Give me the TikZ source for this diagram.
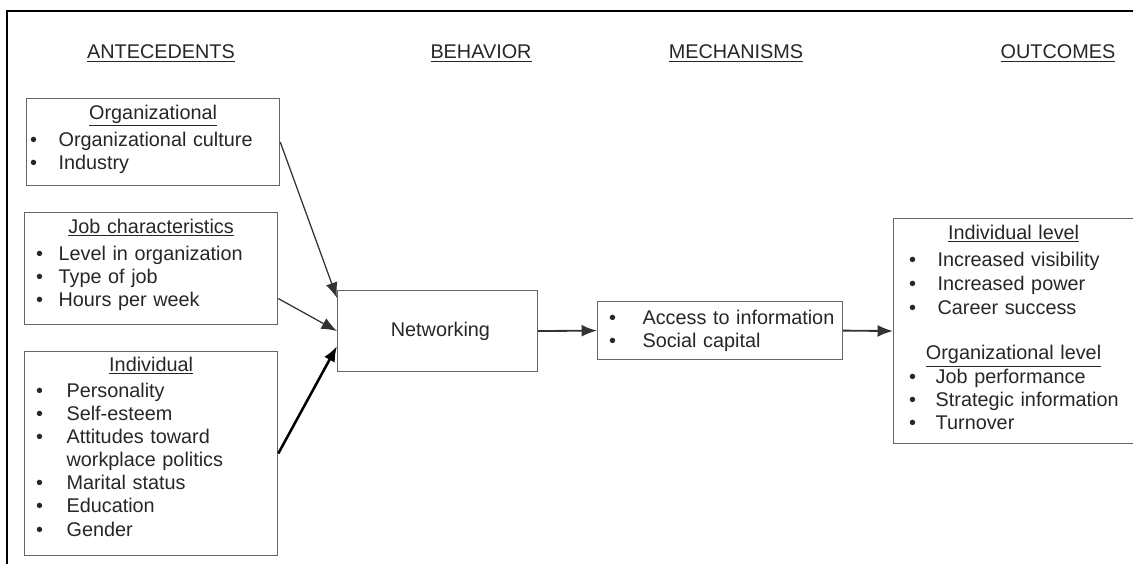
\documentclass[tikz,border=0pt]{standalone}
\usepackage{fontspec}
\setmainfont{Liberation Sans}
\usepackage{tikz}
\usetikzlibrary{arrows.meta,positioning}
\tikzset{
  >={Latex[length=11pt,width=8.5pt]},
  box/.style={draw=black!60, line width=0.8pt, text=black!85, inner sep=0pt,
    anchor=north west, align=left, font=\fontsize{14.1}{16.4}\selectfont},
  head/.style={text=black!85, anchor=base, font=\fontsize{14.1}{16.4}\selectfont},
  link/.style={->, draw=black!80, line width=0.9pt},
}
\newcommand{\itm}[3]{\hspace*{#1}\makebox[#2][l]{\textbullet}#3}
\newcommand{\ttl}[1]{\makebox[\linewidth]{\underline{#1}}}

\begin{document}
\begin{tikzpicture}[x=0.025cm, y=-0.025cm]
    \useasboundingbox (0,0) rectangle (1133,564);
    \draw[line width=1.6pt] (7,570) -- (7,11) -- (1140,11);

    \node[head] (hant) at (161,59) {\underline{ANTECEDENTS}};
    \node[head] (hbeh) at (481,59) {\underline{BEHAVIOR}};
    \node[head] (hmec) at (736,59) {\underline{MECHANISMS}};
    \node[head] (hout) at (1058,59) {\underline{OUTCOMES}};

    \node[box, text width=180pt, text height=14.9pt, text depth=46.9pt] (org) at (26,98)
      {\ttl{Organizational}\\[2.8pt]
       \itm{2.5pt}{20.3pt}{Organizational culture}\\
       \itm{2.5pt}{20.3pt}{Industry}};
    \node[box, text width=180pt, text height=14.9pt, text depth=64.7pt] (job) at (24,212)
      {\ttl{Job characteristics}\\[2.8pt]
       \itm{8.2pt}{16pt}{Level in organization}\\
       \itm{8.2pt}{16pt}{Type of job}\\
       \itm{8.2pt}{16pt}{Hours per week}};
    \node[box, text width=180pt, text height=14.2pt, text depth=130.9pt] (ind) at (24,351)
      {\ttl{Individual}\\[2.2pt]
       \itm{8.2pt}{21.7pt}{Personality}\\
       \itm{8.2pt}{21.7pt}{Self-esteem}\\
       \itm{8.2pt}{21.7pt}{Attitudes toward}\\
       \hspace*{29.9pt}workplace politics\\
       \itm{8.2pt}{21.7pt}{Marital status}\\
       \itm{8.2pt}{21.7pt}{Education}\\
       \itm{8.2pt}{21.7pt}{Gender}};

    \node[box, align=center, minimum width=142.3pt, minimum height=57.6pt] (net) at (337,290)
      {\hspace*{4pt}Networking};

    \node[box, text width=174.3pt, text height=16.4pt, text depth=24.9pt] (mech) at (597,301)
      {\itm{8.2pt}{23.8pt}{Access to information}\\
       \itm{8.2pt}{23.8pt}{Social capital}};

    \node[box, text width=170.7pt, text height=14.9pt, text depth=145.1pt] (out) at (893,218)
      {\ttl{Individual level}\\[2.8pt]
       \itm{11pt}{20.3pt}{Increased visibility}\\[0.6pt]
       \itm{11pt}{20.3pt}{Increased power}\\[0.6pt]
       \itm{11pt}{20.3pt}{Career success}\\[16pt]
       \ttl{Organizational level}\\[0.5pt]
       \itm{11pt}{19pt}{Job performance}\\
       \itm{11pt}{19pt}{Strategic information}\\
       \itm{11pt}{19pt}{Turnover}};

    \draw[link] (org.east) -- ([yshift=-0.2cm]net.north west);
    \draw[link] ([yshift=-0.75cm]job.east) -- (net.west);
    \draw[link, draw=black, line width=1.8pt] (ind.east) -- ([yshift=-0.375cm]net.west);
    \draw[link, line width=1.3pt] (net.east) -- (mech.west);
    \draw[link, line width=1.3pt] (mech.east) -- (out.west);
\end{tikzpicture}
\end{document}
